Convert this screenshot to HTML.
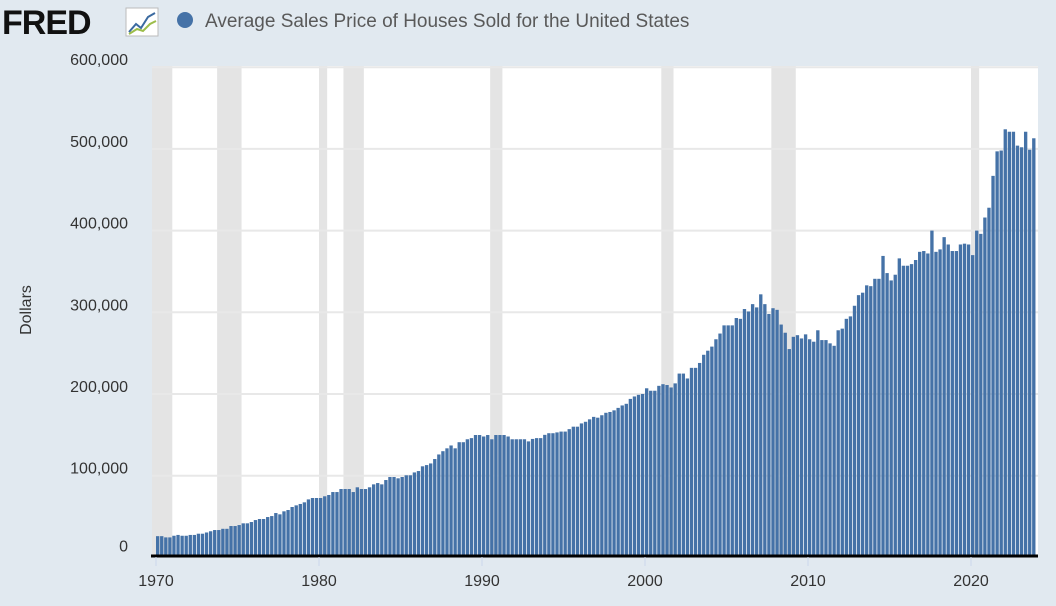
<!DOCTYPE html>
<html><head><meta charset="utf-8"><style>
body{margin:0;background:#e1e9f0;width:1056px;height:601px;overflow:hidden;font-family:"Liberation Sans",sans-serif}
</style></head><body>
<svg width="1056" height="601" xmlns="http://www.w3.org/2000/svg">
<rect width="1056" height="601" fill="#e1e9f0"/>
<g>
<text x="2" y="34" font-size="34" font-weight="bold" fill="#111" font-family="Liberation Sans,sans-serif" letter-spacing="-1">FRED</text>
<rect x="126" y="8" width="32" height="28" fill="#fff" stroke="#bbb"/>
<polyline points="129,32 136,24 141,28 148,17 155,13" fill="none" stroke="#3b6aa0" stroke-width="2"/>
<polyline points="129,34 137,29 143,31 150,24 156,21" fill="none" stroke="#9cbd4a" stroke-width="2"/>
</g>
<circle cx="185" cy="20" r="8" fill="#4572a7"/>
<text x="205" y="27" font-size="19" fill="#595959">Average Sales Price of Houses Sold for the United States</text>
<rect x="152" y="66" width="886" height="490" fill="#fff"/>
<g id="rec"></g><g id="grid"></g><g id="bars"></g><g id="axes"></g>
<text transform="translate(31,310) rotate(-90)" text-anchor="middle" font-size="16" fill="#333">Dollars</text>
</svg>
<script>
const startYear = 1970;
const values = [
26,26,24.5,24.5, 26.5,27.5,26.5,26.5, 27.5,27.5,29,29, 30.5,32,33.5,33.5, 35,35,38.4,38.4,
39.6,41.7,41.7,43.3, 45.7,47,47,49.4, 50.6,54.3,52.7,56.4, 58,61.7,63.7,65.4, 67.4,71,72.7,72.7,
72.7,74.8,76.4,80, 80,83.7,83.7,83.7, 80,85.8,83.7,83.7, 85.8,89.4,91,89.4, 94.7,98.4,98.4,96.8,
98.4,100.5,100.5,104, 105.7,111.5,113,115, 120.4,126,130,133.5, 137,133.5,141,141, 144.6,146,149.8,149.8,
148,149.8,144.6,149.8, 149.8,149.8,148,144.6, 144.6,144.6,144.6,142, 145,146,146,150, 152,152,153,154,
154,157,160,160, 164,166,169,172, 171,174,177,178, 180,183,186,188, 194,197,199,200,
207,204,204,210, 212,211,208,213, 225,225,219,232, 232,238,248,253, 258,267,274,284,
284,284,293,292, 304,301,310,306, 322,310,298,305, 303,285,275,255, 270,272,268,273,
267,264,278,266, 266,262,259,278, 280,292,295,308, 321,324,333,332, 341,341,369,348,
339,346,366,357, 357,359,364,374, 375,372,400,374, 377,392,383,375, 375,383,384,383,
370,400,396,416, 428,467,497,498, 524,521,521,504, 502,521,499,513];
const yTicks = [0,100,200,300,400,500,600];
const yTickLabels = ["0","100,000","200,000","300,000","400,000","500,000","600,000"];
const xTicks = [1970,1980,1990,2000,2010,2020];
const recessionStarts = [1969.75,1973.75,1980.0,1981.5,1990.5,2001.0,2007.75,2020.0];
const recessionEnds = [1971.0,1975.25,1980.5,1982.75,1991.25,2001.75,2009.25,2020.5];
const NS="http://www.w3.org/2000/svg";
const X = t => 156 + (t - startYear) * 16.3;
const Y = v => 557.4 - v * 0.817;
function mk(tag, attrs, parent){const e=document.createElementNS(NS,tag);for(const k in attrs)e.setAttribute(k,attrs[k]);document.getElementById(parent).appendChild(e);return e;}
recessionStarts.forEach((s,i)=>{
 const x0=Math.max(152,X(s)), x1=X(recessionEnds[i]);
 const r=mk('rect',{x:x0,y:66,width:x1-x0,height:490,fill:'#e4e4e4'},'rec');
 
 
});
yTicks.forEach((v,i)=>{
 if(v>0){const l=mk('line',{x1:152,x2:1038,y1:Y(v),y2:Y(v),stroke:'#e8e8e8','stroke-width':2},'grid');
 
 }
 const t=mk('text',{x:128,y:Y(v)-2-(v===0?4:0),'text-anchor':'end','font-size':16,fill:'#333'},'axes');
 t.textContent=yTickLabels[i];
 
 
});
const qw=16.3/4;
values.forEach((v,i)=>{
 const x=X(startYear+i/4);
 const b=mk('rect',{x:x,y:Y(v),width:qw*0.82,height:Y(0)-Y(v),fill:'#4572a7'},'bars');
 
 
});
const base=mk('line',{x1:151,x2:1038,y1:556,y2:556,stroke:'#000','stroke-width':3},'axes');


xTicks.forEach(yr=>{
 const tk=mk('line',{x1:X(yr),x2:X(yr),y1:557,y2:566,stroke:'#ccd6eb'},'axes');
 
 
 const t=mk('text',{x:X(yr),y:586,'text-anchor':'middle','font-size':16,fill:'#333'},'axes');
 t.textContent=yr;
 
 
});
</script>
</body></html>
